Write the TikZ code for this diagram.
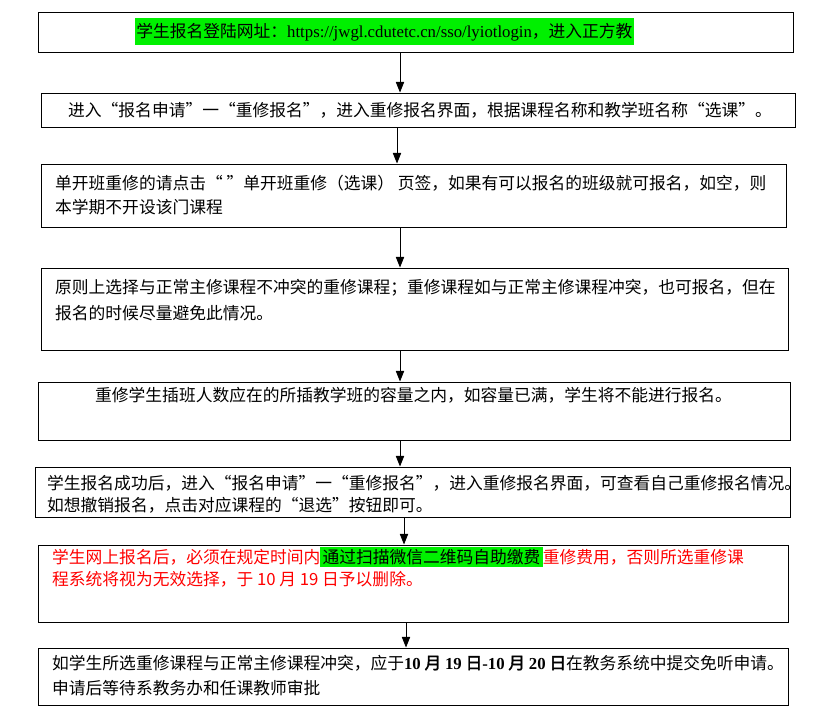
\documentclass[tikz,border=0pt]{standalone}
\usepackage{fontspec}
\setmainfont{Liberation Serif}
\newfontfamily\cjk{Noto Sans CJK SC}[AutoFakeBold=2]
\newcommand{\lat}[1]{{\rmfamily #1}}
\usetikzlibrary{fit,arrows.meta}
\definecolor{hl}{RGB}{0,240,0}
\tikzset{
  box/.style={draw, line width=0.8pt, inner sep=0pt},
  txt/.style={anchor=base west, inner sep=0pt, font=\cjk\fontsize{14.3}{17}\selectfont},
  arr/.style={-{Triangle[length=9pt,width=7pt]}, line width=0.8pt}
}
\begin{document}
\begin{tikzpicture}[x=0.03cm,y=-0.03cm]
\useasboundingbox (0,0) rectangle (834,727);
\node[box, fit={(38,12) (793,52)}] (b1) {};
\node[box, fit={(41,93) (795,127)}] (b2) {};
\node[box, fit={(41,164) (786,227)}] (b3) {};
\node[box, fit={(41,268) (788,350)}] (b4) {};
\node[box, fit={(38,382) (790,440)}] (b5) {};
\node[box, fit={(35,467) (790,517)}] (b6) {};
\node[box, fit={(38,545) (788,622)}] (b7) {};
\node[box, fit={(38,648) (788,705)}] (b8) {};
\draw[arr] (b1.south -| 400,0) -- (b2.north -| 400,0);
\draw[arr] (b2.south -| 397,0) -- (b3.north -| 397,0);
\draw[arr] (b3.south -| 400,0) -- (b4.north -| 400,0);
\draw[arr] (b4.south -| 400,0) -- (b5.north -| 400,0);
\draw[arr] (b5.south -| 400,0) -- (b6.north -| 400,0);
\draw[arr] (b6.south -| 404,0) -- (b7.north -| 404,0);
\draw[arr] (b7.south -| 406,0) -- (b8.north -| 406,0);
\node[txt, fill=hl, inner xsep=1pt, inner ysep=4pt] (t1) at (135,37) {学生报名登陆网址：\lat{https://jwgl.cdutetc.cn/sso/lyiotlogin}，进入正方教};
\node[txt] (t2) at (68,116) {进入“报名申请”一“重修报名”，进入重修报名界面，根据课程名称和教学班名称“选课”。};
\node[txt] (t3a) at (55,189) {单开班重修的请点击“ ”单开班重修（选课） 页签，如果有可以报名的班级就可报名，如空，则};
\node[txt] (t3b) at (55,213) {本学期不开设该门课程};
\node[txt] (t4a) at (55,293) {原则上选择与正常主修课程不冲突的重修课程；重修课程如与正常主修课程冲突，也可报名，但在};
\node[txt] (t4b) at (55,319) {报名的时候尽量避免此情况。};
\node[txt] (t5) at (95,401) {重修学生插班人数应在的所插教学班的容量之内，如容量已满，学生将不能进行报名。};
\node[txt] (t6a) at (47,489) {学生报名成功后，进入“报名申请”一“重修报名”，进入重修报名界面，可查看自己重修报名情况。};
\node[txt] (t6b) at (47,511) {如想撤销报名，点击对应课程的“退选”按钮即可。};
\node[txt, text=red] (t7a) at (52,563) {学生网上报名后，必须在规定时间内{\setlength{\fboxsep}{2pt}\colorbox{hl}{\textcolor{black}{通过扫描微信二维码自助缴费}}}重修费用，否则所选重修课};
\node[txt, text=red] (t7b) at (52,585) {程系统将视为无效选择，于 10 月 19 日予以删除。};
\node[txt] (t8a) at (52,669) {如学生所选重修课程与正常主修课程冲突，应于\textbf{\lat{10} 月 \lat{19} 日\lat{-10} 月 \lat{20} 日}在教务系统中提交免听申请。};
\node[txt] (t8b) at (52,694) {申请后等待系教务办和任课教师审批};
\end{tikzpicture}
\end{document}
